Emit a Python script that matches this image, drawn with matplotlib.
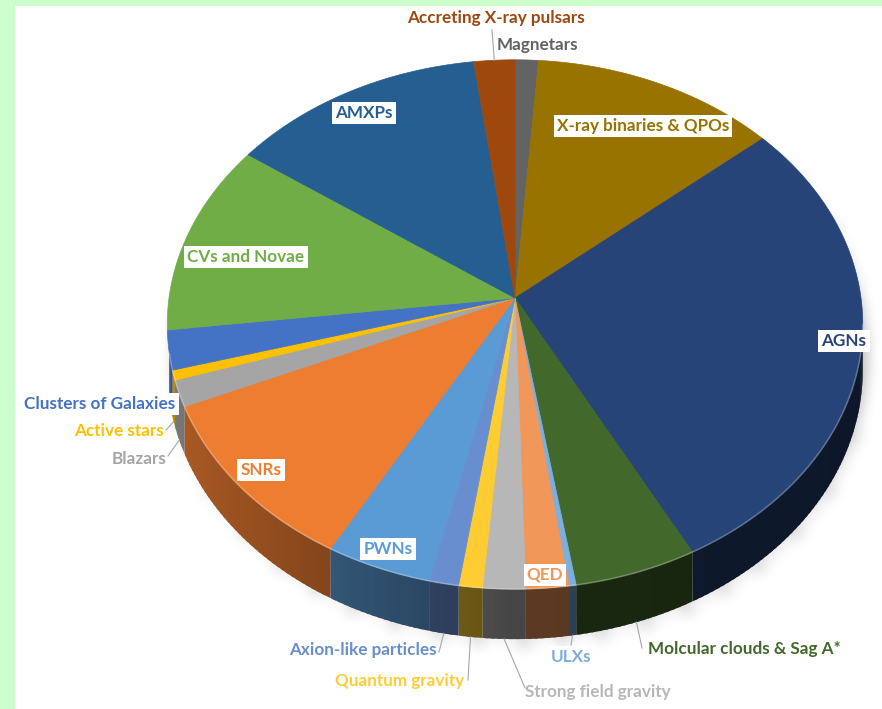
import numpy as np
import matplotlib.pyplot as plt
from matplotlib.patches import Polygon, Rectangle
from matplotlib.path import Path
import matplotlib.colors as mcolors

# share of each topic, clockwise from 12 o'clock
topics = ['Magnetars', 'X-ray binaries & QPOs', 'AGNs', 'Molcular clouds & Sag A*',
          'ULXs', 'QED', 'Strong field gravity', 'Quantum gravity',
          'Axion-like particles', 'PWNs', 'SNRs', 'Blazars', 'Active stars',
          'Clusters of Galaxies', 'CVs and Novae', 'AMXPs', 'Accreting X-ray pulsars']
shares = [1.2, 12.6, 28.5, 5.2, 0.3, 1.8, 1.8, 1.0, 1.25, 4.5, 10.4, 1.6, 0.6,
          2.4, 11.75, 13.1, 2.1]
colors = ['#636363', '#997300', '#264478', '#43682B', '#7CAFDD', '#F1975A',
          '#B7B7B7', '#FFCD33', '#698ED0', '#5B9BD5', '#ED7D31', '#A5A5A5',
          '#FFC000', '#4472C4', '#70AD47', '#255E91', '#9E480E']

# label placement: x, y, white box, leader end near the label
label_layout = {
    'Magnetars': (537, 45, False, None),
    'X-ray binaries & QPOs': (643, 126, True, None),
    'AGNs': (844, 341, True, None),
    'Molcular clouds & Sag A*': (744, 649, False, (642, 648)),
    'ULXs': (571, 657, True, (571, 645)),
    'QED': (545, 575, True, None),
    'Strong field gravity': (598, 692, False, (525, 688)),
    'Quantum gravity': (400, 681, False, (468, 680)),
    'Axion-like particles': (363, 650, False, (439, 652)),
    'PWNs': (388, 549, True, None),
    'SNRs': (261, 470, True, None),
    'Blazars': (139, 459, False, (168, 456)),
    'Active stars': (119, 431, False, (166, 430)),
    'Clusters of Galaxies': (100, 404, True, None),
    'CVs and Novae': (246, 257, True, None),
    'AMXPs': (364, 113, True, None),
    'Accreting X-ray pulsars': (496, 18, False, (492, 30)),
}

W, H = 882, 709
CX, CY = 515, 298      # pie centre on screen
R, RK, P = 346, 262, 0.10   # horizontal radius, vertical radius, perspective
DEPTH = 45


def rim(phi):
    v, u = np.cos(phi), np.sin(phi)
    s = 1.0 / (1.0 + P * v)
    return CX + R * u * s, CY - RK * v * s, s


def shade(c, f):
    r, g, b = mcolors.to_rgb(c)
    return (r * f, g * f, b * f)


def box_blur(a, r):
    for axis in (0, 1):
        pad = [(r + 1, r) if i == axis else (0, 0) for i in range(2)]
        c = np.cumsum(np.pad(a, pad), axis=axis)
        n = c.shape[axis]
        a = (np.take(c, np.arange(2 * r + 1, n), axis=axis)
             - np.take(c, np.arange(0, n - 2 * r - 1), axis=axis)) / (2 * r + 1)
    return a


fig = plt.figure(figsize=(W / 100, H / 100), dpi=100)
fig.patch.set_facecolor('#CCFFCC')
ax = fig.add_axes([0, 0, 1, 1])
ax.set_xlim(0, W)
ax.set_ylim(H, 0)
ax.axis('off')
ax.add_patch(Rectangle((15, 6), W - 15, H - 6, fc='white', ec='none', zorder=0))

# soft shadow under the pie
full = np.linspace(0, 2 * np.pi, 361)
xs, ys, ss = rim(full)
outline = np.concatenate([np.c_[xs, ys], np.c_[xs, ys + DEPTH * ss]])
order = np.argsort(np.arctan2(outline[:, 1] - CY - DEPTH / 2, outline[:, 0] - CX))
gy, gx = np.mgrid[0:H, 0:W]
mask = Path(outline[order] + [5, 8]).contains_points(
    np.c_[gx.ravel(), gy.ravel()]).reshape(H, W).astype(float)
for _ in range(3):
    mask = box_blur(mask, 6)
shadow = np.zeros((H, W, 4))
shadow[..., 3] = 0.28 * mask
ax.imshow(shadow, extent=(0, W, H, 0), zorder=1, interpolation='bilinear')

edges = np.concatenate([[0], np.cumsum(shares)]) / sum(shares) * 2 * np.pi
phi_lo = np.arccos(-P)
phi_hi = np.radians(258)
step = np.radians(1.0)

# side walls, built from thin overlapping strips so the shading runs smoothly
for a, b, c in zip(edges[:-1], edges[1:], colors):
    lo, hi = max(a, phi_lo), min(b, phi_hi)
    if hi <= lo:
        continue
    n = max(1, int(np.ceil((hi - lo) / step)))
    cuts = np.linspace(lo, hi, n + 1)
    for p0, p1 in zip(cuts[:-1], cuts[1:]):
        t = np.linspace(p0, min(p1 + 0.6 * step, hi), 4)
        x, y, s = rim(t)
        pts = np.concatenate([np.c_[x, y], np.c_[x, y + DEPTH * s][::-1]])
        sm = np.sin((p0 + p1) / 2)
        f = 0.38 + 0.36 * max(0, -sm) - 0.04 * max(0, sm)
        ax.add_patch(Polygon(pts, closed=True, fc=shade(c, f), ec='none', zorder=2))

# top faces
for a, b, c in zip(edges[:-1], edges[1:], colors):
    t = np.linspace(a, b, max(3, int(np.degrees(b - a) * 2)))
    x, y, _ = rim(t)
    pts = np.concatenate([[[CX, CY]], np.c_[x, y]])
    ax.add_patch(Polygon(pts, closed=True, fc=c, ec=c, lw=0.5, zorder=3))

# light bevel along the front rim
t = np.linspace(phi_lo, phi_hi, 200)
x, y, _ = rim(t)
ax.plot(x, y, color='white', alpha=0.25, lw=1.2, zorder=4)

# labels and leader lines
for name, a, b, c in zip(topics, edges[:-1], edges[1:], colors):
    lx, ly, boxed, lead = label_layout[name]
    if lead is not None:
        mid = (a + b) / 2
        px, py, s = rim(mid)
        if np.cos(mid) < -P:
            py += DEPTH * s
        ax.plot([lead[0], px], [lead[1], py], color='#A6A6A6', lw=0.8, zorder=5)
    box = dict(boxstyle='square,pad=0.18', fc='white', ec='none') if boxed else None
    ax.text(lx, ly, name, color=c, fontsize=12.3, fontweight='bold', family='Lato',
            ha='center', va='center', bbox=box, zorder=6)

plt.savefig('out.png', dpi=100, facecolor=fig.get_facecolor())
